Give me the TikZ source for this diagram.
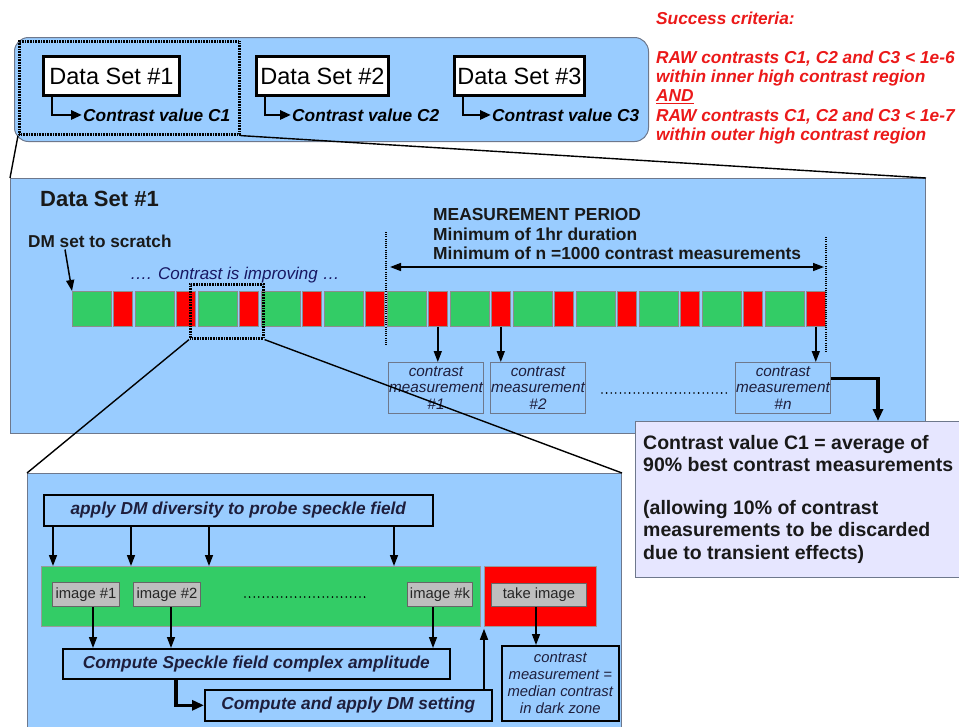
\documentclass[tikz,border=0pt]{standalone}
\usepackage{fontspec}
\setmainfont{Liberation Sans}
\usetikzlibrary{arrows.meta}
\definecolor{pblue}{RGB}{153,204,255}
\definecolor{pgreen}{RGB}{51,204,102}
\definecolor{pred}{RGB}{255,0,0}
\definecolor{pgray}{RGB}{190,190,190}
\definecolor{plav}{RGB}{230,230,255}
\definecolor{pborder}{RGB}{110,120,140}
\definecolor{ptext}{RGB}{30,30,60}
\definecolor{scred}{RGB}{235,25,25}
\newcommand\fsz[1]{\fontsize{#1}{#1}\selectfont}
\newcommand\fszb[2]{\fontsize{#1}{#2}\selectfont}
\tikzset{
 panel/.style={draw=pborder, fill=pblue, line width=1pt, anchor=north west, inner sep=0pt},
 zoombox/.style={draw=black, line width=2.6pt, dash pattern=on 0.9pt off 0.7pt, anchor=north west, inner sep=0pt},
 dsbox/.style={draw=black, line width=3pt, fill=white, anchor=north west, minimum width=136pt, minimum height=39pt, inner sep=0pt, font=\fsz{23.5}},
 ctext/.style={anchor=mid west, yshift=-3.5pt, inner sep=1pt, font=\fsz{17.3}\bfseries\itshape},
 sctext/.style={anchor=mid west, yshift=-3.5pt, inner sep=0pt, text=scred, font=\fsz{17.3}\bfseries\itshape},
 lbl/.style={anchor=mid west, yshift=-3.5pt, inner sep=0pt, text=ptext},
 elb/.style={line width=2.8pt, -{Triangle[length=11pt,width=9pt]}},
 arr/.style={line width=1.5pt, -{Triangle[length=11pt,width=8pt]}},
 thickarr/.style={line width=3.5pt, -{Triangle[length=12pt,width=10pt]}},
 zline/.style={line width=1.4pt, draw=black},
 gcell/.style={draw=black!45, line width=0.6pt, fill=pgreen, anchor=north west, minimum width=39pt, minimum height=35pt, inner sep=0pt},
 rcell/.style={draw=black!45, line width=0.6pt, fill=pred, anchor=north west, minimum width=19pt, minimum height=35pt, inner sep=0pt},
 mbox/.style={draw=pborder, line width=1pt, fill=pblue, anchor=north west, minimum width=95pt, minimum height=51pt, inner sep=0pt, align=center, text=ptext, font=\fszb{15.3}{16.5}\itshape},
 vdot/.style={line width=1.2pt, dash pattern=on 1pt off 1.2pt},
 dotrow/.style={line width=1.8pt, line cap=round, dash pattern=on 0pt off 4.6pt},
 bbox/.style={draw=black, line width=1.6pt, fill=pblue, anchor=north west, inner sep=0pt, text=ptext, font=\fsz{17.3}\bfseries\itshape},
 ibox/.style={draw=black!60, line width=1pt, fill=pgray, anchor=north west, minimum height=24pt, inner sep=0pt, text=black!85, font=\fsz{14.8}},
}
\begin{document}
\begin{tikzpicture}[x=1pt,y=-1pt]
\useasboundingbox (0,0) rectangle (959,726);
% ---------- top panel ----------
\node[panel, rounded corners=14pt, minimum width=634pt, minimum height=104pt] (top) at (14,37) {};
\node[dsbox] (ds1) at (42,55) {Data Set \#1};
\node[dsbox, minimum width=132pt] (ds2) at (255,55) {Data Set \#2};
\node[dsbox, minimum width=130pt] (ds3) at (453,55) {Data Set \#3};
\node[ctext] (c1) at (82,115) {Contrast value C1};
\node[ctext] (c2) at (291,115) {Contrast value C2};
\node[ctext] (c3) at (491,115) {Contrast value C3};
\draw[elb] ([xshift=10pt]ds1.south west) |- (c1.west);
\draw[elb] ([xshift=10pt]ds2.south west) |- (c2.west);
\draw[elb] ([xshift=10pt]ds3.south west) |- (c3.west);
\node[zoombox, minimum width=220pt, minimum height=93pt] (z1) at (18,40) {};
% ---------- success criteria ----------
\node[sctext] (sc1) at (656,18) {Success criteria:};
\node[sctext] (sc2) at (656,57) {RAW contrasts C1, C2 and C3 < 1e-6};
\node[sctext] (sc3) at (656,76) {within inner high contrast region};
\node[sctext] (sc4) at (656,95.5) {\underline{AND}};
\node[sctext] (sc5) at (656,115) {RAW contrasts C1, C2 and C3 < 1e-7};
\node[sctext] (sc6) at (656,134) {within outer high contrast region};
% ---------- middle panel ----------
\node[panel, minimum width=915pt, minimum height=255pt] (mid) at (10,178) {};
\draw[zline] (z1.south west) -- (mid.north west);
\draw[zline] (z1.south east) -- (mid.north east);
\node[lbl, text=black!90, font=\fsz{22}\bfseries] (dstitle) at (40,200) {Data Set \#1};
\node[lbl, text=black!90, font=\fsz{17.2}\bfseries] (dm) at (28,241) {DM set to scratch};
\node[lbl, text=ptext!80!blue, font=\fsz{17}\itshape] (impr) at (130,273) {…. Contrast is improving …};
\foreach \i in {0,...,11} {
  \node[gcell] (g\i) at (72+63*\i,291) {};
  \node[rcell] (r\i) at (113+63*\i,291) {};
}
\draw[arr] ([xshift=37pt,yshift=-2pt]dm.south west) -- (g0.north west);
\node[zoombox, minimum width=73pt, minimum height=54pt] (z2) at (189,283) {};
\coordinate (vl1) at (386,232); \coordinate (vl2) at (386,346);
\coordinate (vr1) at (826,237); \coordinate (vr2) at (826,352);
\draw[vdot] (vl1) -- (vl2);
\draw[vdot] (vr1) -- (vr2);
\node[lbl, text=black!90, font=\fsz{17.4}\bfseries] (mp1) at (433,214) {MEASUREMENT PERIOD};
\node[lbl, text=black!90, font=\fsz{17.4}\bfseries] (mp2) at (433,234) {Minimum of 1hr duration};
\node[lbl, text=black!90, font=\fsz{17.4}\bfseries] (mp3) at (433,253) {Minimum of n =1000 contrast measurements};
\coordinate (pa) at (390,267); \coordinate (pb) at (824,267);
\draw[line width=1.5pt, {Triangle[length=11pt,width=8pt]}-{Triangle[length=11pt,width=8pt]}] (pa) -- (pb);
\node[mbox] (m1) at (388,362) {contrast\\measurement\\\#1};
\node[mbox] (m2) at (490,362) {contrast\\measurement\\\#2};
\node[mbox] (mn) at (735,362) {contrast\\measurement\\\#n};
\draw[arr] (r5.south) -- (r5.south |- m1.north);
\draw[arr] (r6.south) -- (r6.south |- m2.north);
\draw[arr] (r11.south) -- (r11.south |- mn.north);
\coordinate (d1a) at (602,393); \coordinate (d1b) at (727,393);
\draw[dotrow] (d1a) -- (d1b);
% ---------- C1 result box ----------
\node[draw=pborder, line width=1pt, fill=plav, anchor=north west, minimum width=335pt, minimum height=156pt, inner sep=0pt] (cbox) at (635,421) {};
\draw[thickarr] ([yshift=9.5pt]mn.east) -| ([xshift=243pt]cbox.north west);
\node[anchor=north west, inner sep=0pt, align=left, text=black!90, font=\fszb{19.5}{22.5}\bfseries] (ctxt) at (643,435)
 {Contrast value C1 = average of\\90\% best contrast measurements\\[20pt](allowing 10\% of contrast\\measurements to be discarded\\due to transient effects)};
% ---------- bottom panel ----------
\node[panel, minimum width=594pt, minimum height=270pt] (bot) at (27,473) {};
\draw[zline] (z2.south west) -- (bot.north west);
\draw[zline] (z2.south east) -- (bot.north east);
\node[bbox, minimum width=389pt, minimum height=31pt] (apply) at (43,494) {apply DM diversity to probe speckle field};
\node[draw=black!40, line width=0.8pt, fill=pgreen, anchor=north west, minimum width=439pt, minimum height=60pt, inner sep=0pt] (gbox) at (41,566) {};
\node[draw=black!40, line width=0.8pt, fill=pred, anchor=north west, minimum width=112pt, minimum height=60pt, inner sep=0pt] (redbox) at (484,566) {};
\draw[arr] ([xshift=10pt]apply.south west) -- ([xshift=12pt]gbox.north west);
\draw[arr] ([xshift=88pt]apply.south west) -- ([xshift=90pt]gbox.north west);
\draw[arr] ([xshift=166pt]apply.south west) -- ([xshift=168pt]gbox.north west);
\draw[arr] ([xshift=351pt]apply.south west) -- ([xshift=353pt]gbox.north west);
\node[ibox, minimum width=67pt] (i1) at (52,582) {image \#1};
\node[ibox, minimum width=67pt] (i2) at (133,582) {image \#2};
\node[ibox, minimum width=65pt] (ik) at (407,582) {image \#k};
\node[ibox, minimum width=95pt, minimum height=23pt] (take) at (491,583) {take image};
\coordinate (d2a) at (245,597); \coordinate (d2b) at (368,597);
\draw[dotrow] (d2a) -- (d2b);
\node[bbox, minimum width=387pt, minimum height=30pt] (comp) at (62,648) {Compute Speckle field complex amplitude};
\node[bbox, minimum width=287pt, minimum height=31pt] (dmset) at (204,689) {Compute and apply DM setting};
\draw[arr] ([xshift=41pt]i1.south west) -- ([xshift=31pt]comp.north west);
\draw[arr] ([xshift=38pt]i2.south west) -- ([xshift=109pt]comp.north west);
\draw[arr] ([xshift=26pt]ik.south west) -- ([xshift=371pt]comp.north west);
\draw[thickarr] ([xshift=114pt]comp.south west) |- (dmset.west);
\draw[arr] (redbox.south west |- dmset.north) -- ([yshift=-2pt]redbox.south west);
\node[draw=black, line width=1.6pt, fill=pblue, anchor=north west, minimum width=117pt, minimum height=75pt, inner sep=0pt, align=center, text=ptext, font=\fszb{14.8}{17}\itshape] (res) at (501,645) {contrast\\measurement =\\median contrast\\in dark zone};
\draw[arr] ([xshift=45pt]take.south west) -- ([xshift=35pt]res.north west);
\end{tikzpicture}
\end{document}
